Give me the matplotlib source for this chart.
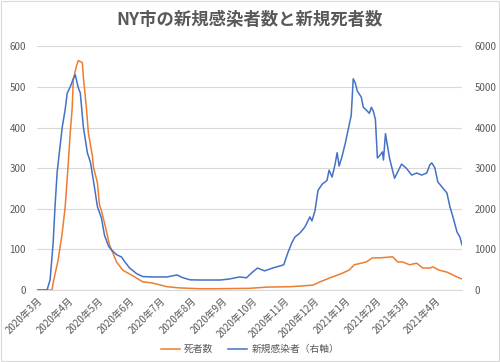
import matplotlib
matplotlib.use("Agg")
import matplotlib.pyplot as plt
import matplotlib.dates as mdates
from matplotlib.patches import Rectangle
import pandas as pd

plt.rcParams['font.family'] = ['Noto Sans CJK JP', 'DejaVu Sans']

title = "NY市の新規感染者数と新規死者数"
death_label = "死者数"
case_label = "新規感染者（右軸）"

case_dates = ["2020-03-01", "2020-03-11", "2020-03-14", "2020-03-17", "2020-03-19", "2020-03-21",
              "2020-03-26", "2020-03-29", "2020-03-31", "2020-04-03", "2020-04-06", "2020-04-08",
              "2020-04-11", "2020-04-13", "2020-04-16", "2020-04-20", "2020-04-23", "2020-04-26",
              "2020-04-30", "2020-05-04", "2020-05-07", "2020-05-11", "2020-05-14", "2020-05-19",
              "2020-05-24", "2020-05-27", "2020-06-01", "2020-06-08", "2020-06-14", "2020-06-24",
              "2020-07-08", "2020-07-18", "2020-07-24", "2020-07-31", "2020-08-10", "2020-08-30",
              "2020-09-08", "2020-09-18", "2020-09-25", "2020-10-01", "2020-10-06", "2020-10-13",
              "2020-10-21", "2020-10-28", "2020-11-01", "2020-11-05", "2020-11-09", "2020-11-12",
              "2020-11-17", "2020-11-22", "2020-11-27", "2020-11-29", "2020-12-02", "2020-12-05",
              "2020-12-09", "2020-12-14", "2020-12-16", "2020-12-19", "2020-12-22", "2020-12-24",
              "2020-12-26", "2020-12-29", "2021-01-01", "2021-01-04", "2021-01-07", "2021-01-09",
              "2021-01-11", "2021-01-13", "2021-01-17", "2021-01-19", "2021-01-22", "2021-01-25",
              "2021-01-27", "2021-01-29", "2021-01-31", "2021-02-02", "2021-02-04", "2021-02-07",
              "2021-02-08", "2021-02-10", "2021-02-12", "2021-02-14", "2021-02-16", "2021-02-19",
              "2021-02-22", "2021-02-26", "2021-03-03", "2021-03-08", "2021-03-13", "2021-03-18",
              "2021-03-23", "2021-03-26", "2021-03-28", "2021-03-31", "2021-04-03", "2021-04-07",
              "2021-04-12", "2021-04-15", "2021-04-18", "2021-04-22", "2021-04-25", "2021-04-27"]
cases = [0, 0, 250, 1150, 2100, 2900,
         4000, 4450, 4850, 5000, 5200, 5300,
         4980, 4850, 4020, 3380, 3150, 2700,
         2050, 1770, 1350, 1080, 985, 870,
         810, 700, 540, 400, 330, 320,
         320, 370, 300, 250, 245, 245,
         270, 320, 300, 440, 540, 470,
         540, 590, 620, 910, 1160, 1300,
         1400, 1550, 1800, 1700, 1950, 2450,
         2600, 2700, 2950, 2780, 3100, 3380,
         3050, 3300, 3600, 3950, 4300, 5200,
         5100, 4900, 4750, 4500, 4430, 4350,
         4500, 4400, 4200, 3250, 3300, 3400,
         3200, 3850, 3550, 3250, 3050, 2750,
         2900, 3100, 2990, 2830, 2880, 2830,
         2880, 3080, 3130, 3010, 2660, 2540,
         2390, 2050, 1800, 1430, 1300, 1110]

death_dates = ["2020-03-01", "2020-03-16", "2020-03-17", "2020-03-22", "2020-03-26", "2020-03-29",
               "2020-04-01", "2020-04-03", "2020-04-05", "2020-04-06", "2020-04-09", "2020-04-11",
               "2020-04-15", "2020-04-16", "2020-04-19", "2020-04-21", "2020-04-25", "2020-04-26",
               "2020-04-30", "2020-05-02", "2020-05-04", "2020-05-08", "2020-05-12", "2020-05-19",
               "2020-05-25", "2020-06-04", "2020-06-14", "2020-06-24", "2020-07-08", "2020-07-21",
               "2020-08-10", "2020-08-23", "2020-09-28", "2020-10-15", "2020-11-07", "2020-11-20",
               "2020-11-30", "2020-12-07", "2020-12-17", "2020-12-27", "2021-01-05", "2021-01-10",
               "2021-01-22", "2021-01-28", "2021-02-04", "2021-02-14", "2021-02-17", "2021-02-22",
               "2021-02-27", "2021-03-06", "2021-03-13", "2021-03-19", "2021-03-26", "2021-03-29",
               "2021-04-04", "2021-04-12", "2021-04-18", "2021-04-22", "2021-04-27"]
deaths = [0, 0, 17, 74, 140, 205,
          310, 387, 450, 517, 550, 565,
          560, 525, 450, 387, 330, 303,
          264, 210, 195, 155, 111, 69,
          49, 35, 20, 17, 8, 5,
          3, 3, 4, 7, 8, 10,
          12, 20, 30, 39, 49, 62,
          69, 79, 79, 81, 82, 69,
          69, 62, 66, 54, 54, 57,
          49, 44, 37, 32, 27]

month_ticks = pd.date_range("2020-03-01", "2021-04-01", freq="MS")
month_labels = [f"{d.year}年{d.month}月" for d in month_ticks]

orange = "#ED7D31"
blue = "#4472C4"
txt = "#595959"
grid = "#D9D9D9"

fig = plt.figure(figsize=(5.0, 3.62), dpi=100)
fig.patch.set_facecolor("white")
fig.add_artist(Rectangle((0.002, 0.003), 0.996, 0.994, transform=fig.transFigure,
                         fill=False, edgecolor=grid, linewidth=0.8))
ax = fig.add_axes([0.074, 0.199, 0.850, 0.673])
ax2 = ax.twinx()

ax.plot(pd.to_datetime(death_dates), deaths, color=orange, lw=1.1, label=death_label)
ax2.plot(pd.to_datetime(case_dates), cases, color=blue, lw=1.1, label=case_label)

ax.set_ylim(0, 600)
ax.set_yticks(range(0, 601, 100))
ax2.set_ylim(0, 6000)
ax2.set_yticks(range(0, 6001, 1000))
ax.set_xlim(pd.Timestamp("2020-03-01"), pd.Timestamp("2021-04-27"))
ax.set_xticks(month_ticks)
ax.set_xticklabels(month_labels, rotation=45, ha="right", rotation_mode="anchor")

ax.grid(axis="y", color=grid, lw=0.8)
ax.set_axisbelow(True)
for a in (ax, ax2):
    for s in a.spines.values():
        s.set_visible(False)
    a.tick_params(length=0, labelsize=7, labelcolor=txt)
ax.spines["bottom"].set_visible(True)
ax.spines["bottom"].set_color(grid)
ax.tick_params(axis="y", pad=8)
ax2.tick_params(axis="y", pad=9)
ax.tick_params(axis="x", pad=4)

fig.text(0.5, 0.944, title, ha="center", va="center", fontsize=12.5, fontweight="bold", color=txt)

h1, l1 = ax.get_legend_handles_labels()
h2, l2 = ax2.get_legend_handles_labels()
fig.legend(h1 + h2, l1 + l2, loc="center", bbox_to_anchor=(0.5, 0.036), ncol=2, frameon=False,
           fontsize=7, labelcolor=txt, handlelength=2.0, handletextpad=0.4, columnspacing=1.5)

fig.savefig("out.png", dpi=100, facecolor="white")
